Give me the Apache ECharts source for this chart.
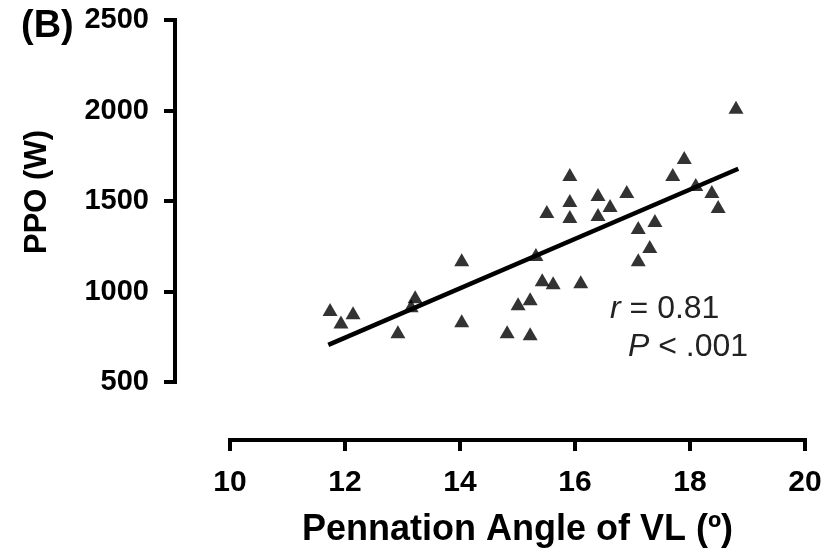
<!DOCTYPE html>
<html>
<head>
<meta charset="utf-8">
<script src="https://cdn.jsdelivr.net/npm/echarts@6/dist/echarts.min.js"></script>
<style>
  html, body { margin: 0; padding: 0; background: #fff; }
  #chart { width: 827px; height: 560px; }
</style>
</head>
<body>
<div id="chart"></div>
<script>
// Pennation angle of vastus lateralis (degrees) for each subject
const angleVL = [11.74, 11.93, 12.14, 12.92, 13.22, 13.15, 14.03, 14.03, 14.82, 15.01,
                 15.22, 15.22, 15.32, 15.43, 15.62, 15.51, 15.91, 15.91, 15.91, 16.10,
                 16.40, 16.61, 16.40, 16.90, 17.10, 17.39, 17.30, 17.10, 17.70, 17.90,
                 18.10, 18.38, 18.49, 18.80];
// Peak power output (W) for the same subjects
const ppoW = [900, 832, 882, 777, 971, 921, 1176, 838, 777, 932,
              960, 766, 1204, 1065, 1048, 1442, 1647, 1503, 1414, 1054,
              1536, 1475, 1425, 1553, 1353, 1392, 1248, 1176, 1647, 1741,
              1591, 1553, 1470, 2018];
// Least-squares fit line end points
const fitAngle = [11.71, 18.84];
const fitPPO = [705, 1678];
// Axis ticks
const xTicks = [10, 12, 14, 16, 18, 20];
const yTicks = [500, 1000, 1500, 2000, 2500];

const FONT = '"Liberation Sans", Arial, Helvetica, sans-serif';

const points = angleVL.map((a, i) => [a, ppoW[i]]);
const fit = fitAngle.map((a, i) => [a, fitPPO[i]]);

const axisCommon = {
  type: 'value',
  splitLine: { show: false },
  axisLine: { show: true, lineStyle: { color: '#000', width: 4, cap: 'square' } },
  axisTick: { show: true, inside: false, length: 11, lineStyle: { color: '#000', width: 4 } },
  axisLabel: { color: '#000', fontFamily: FONT, fontWeight: 'bold', formatter: v => String(v) },
  nameTextStyle: { color: '#000', fontFamily: FONT, fontWeight: 'bold' }
};

const chart = echarts.init(document.getElementById('chart'), null, { renderer: 'canvas' });
chart.setOption({
  animation: false,
  backgroundColor: '#fff',
  grid: { left: 230, right: 22, top: 20, bottom: 178, containLabel: false, outerBoundsMode: 'none' },
  xAxis: Object.assign({}, axisCommon, {
    min: xTicks[0], max: xTicks[xTicks.length - 1], interval: xTicks[1] - xTicks[0],
    offset: 58,
    axisLabel: Object.assign({}, axisCommon.axisLabel, { margin: 28, fontSize: 30 }),
    name: 'Pennation Angle of VL (º)',
    nameLocation: 'middle',
    nameGap: 72,
    nameTextStyle: Object.assign({}, axisCommon.nameTextStyle, { fontSize: 36 })
  }),
  yAxis: Object.assign({}, axisCommon, {
    min: yTicks[0], max: yTicks[yTicks.length - 1], interval: yTicks[1] - yTicks[0],
    offset: 55,
    axisLabel: Object.assign({}, axisCommon.axisLabel, { margin: 26, fontSize: 29 }),
    name: 'PPO (W)',
    nameLocation: 'middle',
    nameGap: 122,
    nameTextStyle: Object.assign({}, axisCommon.nameTextStyle, { fontSize: 31, padding: [0, 0, 0, 18] })
  }),
  series: [
    {
      type: 'scatter',
      data: points,
      symbol: 'triangle',
      symbolSize: [15, 13],
      itemStyle: { color: '#000' },
      z: 3
    },
    {
      type: 'line',
      data: fit,
      symbol: 'none',
      lineStyle: { color: '#000', width: 4.5 },
      z: 4
    }
  ],
  graphic: [
    {
      type: 'text', left: 21, top: 8,
      style: { text: '(B)', font: 'bold 38px ' + FONT, fill: '#000' }
    },
    {
      type: 'text', left: 610, top: 293,
      style: {
        text: '{i|r} = 0.81',
        font: '32px ' + FONT, fill: '#222',
        rich: { i: { fontStyle: 'italic', fontSize: 32, fontFamily: FONT, fill: '#222' } }
      }
    },
    {
      type: 'text', left: 628, top: 331,
      style: {
        text: '{i|P} < .001',
        font: '32px ' + FONT, fill: '#222',
        rich: { i: { fontStyle: 'italic', fontSize: 32, fontFamily: FONT, fill: '#222' } }
      }
    }
  ]
});
</script>
</body>
</html>
